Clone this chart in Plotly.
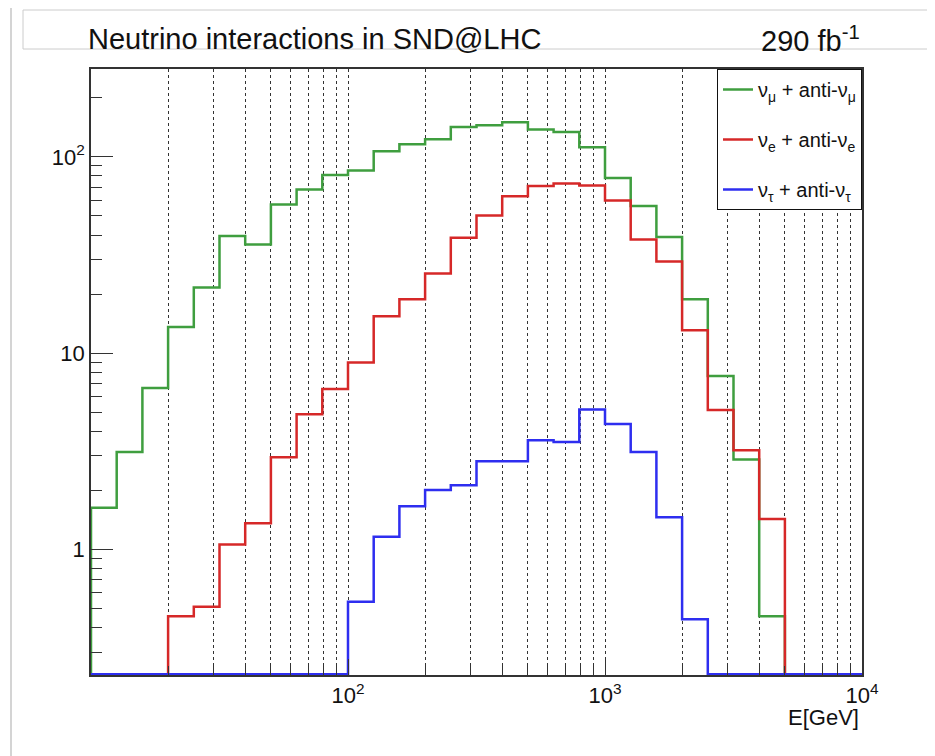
import math
import plotly.graph_objects as go

# ---------------- data ----------------
E_MIN, E_MAX, N_BINS = 10.0, 1.0e4, 30   # log-spaced energy bins [GeV]

nu_mu = [1.63, 3.14, 6.65, 13.6, 21.6, 39.5, 35.8, 57.2, 68.2, 81.0,
         85.3, 107, 116, 123, 142, 145, 150, 138, 134, 112,
         78.0, 56.3, 39.1, 18.8, 7.65, 2.87, 0.457, 0, 0, 0]
nu_e = [0, 0, 0, 0.457, 0.51, 1.06, 1.36, 2.95, 4.89, 6.56,
        8.97, 15.4, 18.8, 25.5, 38.7, 50.3, 63.0, 71.0, 73.2, 71.5,
        60.0, 37.9, 29.3, 13.1, 5.14, 3.2, 1.43, 0, 0, 0]
nu_tau = [0, 0, 0, 0, 0, 0, 0, 0, 0, 0,
          0.541, 1.16, 1.66, 2.01, 2.12, 2.81, 2.81, 3.60, 3.53, 5.17,
          4.35, 3.14, 1.46, 0.44, 0, 0, 0, 0, 0, 0]

series_names = ["ν<sub>μ</sub> + anti-ν<sub>μ</sub>",
                "ν<sub>e</sub> + anti-ν<sub>e</sub>",
                "ν<sub>τ</sub> + anti-ν<sub>τ</sub>"]
series_colors = ["#3f9e3f", "#d62828", "#2e2ef0"]

x_major = [100, 1000, 10000]
x_major_text = ["10<sup>2</sup>", "10<sup>3</sup>", "10<sup>4</sup>"]
x_minor = [20, 30, 40, 50, 60, 70, 80, 90,
           200, 300, 400, 500, 600, 700, 800, 900,
           2000, 3000, 4000, 5000, 6000, 7000, 8000, 9000]
y_major = [1, 10, 100]
y_major_text = ["1", "10", "10<sup>2</sup>"]
y_minor = [0.3, 0.4, 0.5, 0.6, 0.7, 0.8, 0.9,
           2, 3, 4, 5, 6, 7, 8, 9,
           20, 30, 40, 50, 60, 70, 80, 90, 200]

Y_LOG_MIN, Y_LOG_MAX = -0.640, 2.448

# ---------------- layout geometry ----------------
W, H = 935, 756
OFF = 8                      # page body margin in the browser
PL, PR, PT, PB = 91, 862, 69, 675   # plot frame in reference pixels
PW, PH = PR - PL, PB - PT
L, T = PL - OFF, PT - OFF
R, B = W - L - PW, H - T - PH


def px(x):
    return (x - PL) / PW


def py(y):
    return (PB - y) / PH


FONT = "Liberation Sans, Arial, Helvetica, sans-serif"

log_lo, log_hi = math.log10(E_MIN), math.log10(E_MAX)
edges = [10 ** (log_lo + (log_hi - log_lo) * i / N_BINS) for i in range(N_BINS + 1)]
floor = 10 ** (Y_LOG_MIN + 0.004)   # empty bins drawn on the frame bottom

fig = go.Figure()
for vals, name, col in zip([nu_mu, nu_e, nu_tau], series_names, series_colors):
    yv = [v if v > 0 else floor for v in vals]
    fig.add_trace(go.Scatter(
        x=[edges[0]] + edges,
        y=[floor] + yv + [yv[-1]],
        mode="lines", line=dict(shape="hv", color=col, width=2.5),
        name=name, legendgroup=name,
    ))

axis_common = dict(showline=True, mirror=True, linecolor="#333333", linewidth=1.5,
                   ticks="inside", tickcolor="#333333", tickwidth=1.2,
                   tickfont=dict(family=FONT, size=22, color="#111111"),
                   zeroline=False)

fig.update_xaxes(type="log", range=[log_lo, log_hi],
                 tickmode="array", tickvals=x_major, ticktext=x_major_text,
                 ticklen=16, showgrid=True, gridcolor="#333333", griddash="dot", gridwidth=1,
                 minor=dict(tickmode="array", tickvals=x_minor, ticks="inside", ticklen=9,
                            tickcolor="#333333", showgrid=True, gridcolor="#333333",
                            griddash="dot", gridwidth=1),
                 **axis_common)
fig.update_yaxes(type="log", range=[Y_LOG_MIN, Y_LOG_MAX],
                 tickmode="array", tickvals=y_major, ticktext=y_major_text,
                 ticklen=22, showgrid=False,
                 minor=dict(tickmode="array", tickvals=y_minor, ticks="inside", ticklen=11,
                            tickcolor="#333333", showgrid=False),
                 **axis_common)

shapes = [
    # canvas frame
    dict(type="rect", xref="paper", yref="paper", x0=px(11), x1=px(945), y0=py(1), y1=py(770),
         line=dict(color="#d4d4d4", width=2), layer="below"),
    # title pave
    dict(type="rect", xref="paper", yref="paper", x0=px(23), x1=px(932), y0=py(10), y1=py(49),
         line=dict(color="#cccccc", width=1), fillcolor="rgba(0,0,0,0)", layer="below"),
]

annotations = [
    dict(text="Neutrino interactions in SND@LHC", xref="paper", yref="paper",
         x=px(86), y=py(39), xanchor="left", yanchor="middle", showarrow=False,
         font=dict(family=FONT, size=29, color="#111111")),
    dict(text="290 fb<sup>-1</sup>", xref="paper", yref="paper",
         x=px(759), y=py(39), xanchor="left", yanchor="middle", showarrow=False,
         font=dict(family=FONT, size=29, color="#111111")),
    dict(text="E[GeV]", xref="paper", yref="paper",
         x=px(861), y=py(717), xanchor="right", yanchor="middle", showarrow=False,
         font=dict(family=FONT, size=22, color="#111111")),
]

fig.update_layout(
    width=W, height=H,
    margin=dict(l=L, r=R, t=T, b=B, pad=0),
    paper_bgcolor="white", plot_bgcolor="white",
    showlegend=True,
    legend=dict(x=1, y=1, xanchor="right", yanchor="top",
                bgcolor="white", bordercolor="#111111", borderwidth=1,
                font=dict(family=FONT, size=20, color="#111111"),
                tracegroupgap=21, itemwidth=30, traceorder="grouped"),
    shapes=shapes, annotations=annotations,
)

fig.write_html("out.html")
